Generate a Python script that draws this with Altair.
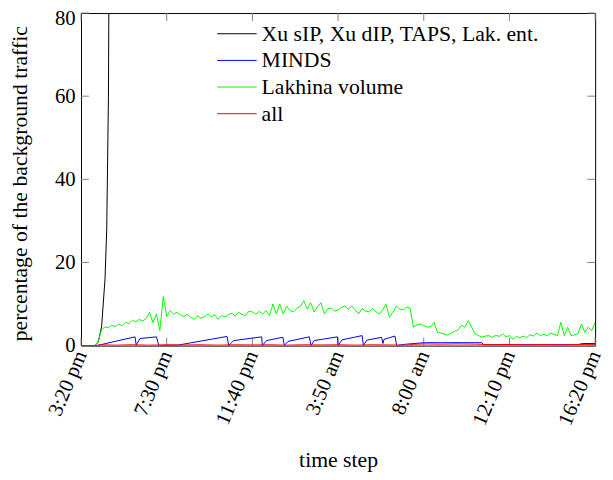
import altair as alt
import pandas as pd

# ---- data ----
x_tick_steps = [0, 25, 50, 75, 100, 125, 150]
x_tick_labels = ["3:20 pm", "7:30 pm", "11:40 pm", "3:50 am", "8:00 am", "12:10 pm", "16:20 pm"]
y_tick_values = [0, 20, 40, 60, 80]

series_names = ["Xu sIP, Xu dIP, TAPS, Lak. ent.", "MINDS", "Lakhina volume", "all"]
series_colors = ["#000000", "#0000ff", "#00ff00", "#ff0000"]

black_steps = [0, 4, 5, 6, 7, 7.5, 8, 8.5, 9]
black_values = [0, 0, 0.8, 4.5, 16, 28, 60, 150, 300]

blue_steps = [0, 4.6, 15.75, 16.1, 17.2, 22.0, 22.7, 28.2, 42.6, 43.1, 44.5, 52.7, 52.9, 54.1,
              58.9, 59.3, 60.4, 66.6, 67.1, 68.0, 74.8, 75.0, 76.2, 82.0, 82.4, 83.4, 87.7,
              88.1, 88.4, 91.6, 92.1, 94.4, 100.2, 116.9, 117.5, 144.8, 146.3, 150]
blue_values = [0, 0, 2.1, 0.1, 1.7, 2.1, 0, 0.1, 2.2, 0, 1.2, 2.1, 0, 1.2,
               2.0, 0, 1.0, 2.1, 0, 1.2, 2.1, 0, 1.4, 2.4, 0, 1.3, 2.0,
               0.5, 1.5, 2.3, 0, 0.3, 0.7, 0.7, 0.2, 0.2, 0.5, 0.5]

green_values = [
    0, 0, 0, 0, 0, 1.0, 3.8, 4.5, 4.3, 4.9,
    4.6, 5.2, 4.8, 5.6, 5.3, 6.1, 5.7, 6.3, 5.9, 6.5,
    8.0, 5.5, 7.6, 3.6, 11.8, 7.0, 8.4, 7.6, 8.0, 7.4,
    7.0, 7.5, 6.8, 6.3, 7.2, 6.6, 7.0, 7.6, 6.9, 7.4,
    6.3, 7.2, 6.9, 7.4, 7.8, 7.1, 8.0, 7.5, 7.2, 8.3,
    8.1, 7.6, 8.2, 7.6, 8.4, 7.2, 10.0, 7.6, 10.0, 7.6,
    9.5, 8.4, 8.1, 9.0, 9.4, 10.8, 8.8, 10.3, 8.1, 9.3,
    10.3, 7.6, 8.9, 9.0, 8.3, 8.6, 9.2, 9.5, 8.8, 9.5,
    8.6, 7.6, 8.9, 8.3, 8.1, 8.9, 8.2, 7.6, 8.6, 9.9,
    6.8, 8.0, 9.5, 8.8, 8.6, 9.3, 9.0, 4.4, 5.0, 5.2,
    4.8, 4.5, 4.5, 5.6, 3.2, 3.0, 2.8, 2.5, 3.0, 3.4,
    3.7, 4.9, 4.4, 6.0, 4.4, 2.8, 2.4, 2.0, 2.3, 2.4,
    2.0, 2.5, 2.2, 2.8, 2.1, 2.4, 1.5, 2.2, 1.9, 2.3,
    1.9, 2.6, 2.3, 3.0, 2.4, 2.7, 2.4, 3.0, 2.7, 2.4,
    5.6, 2.4, 4.4, 2.4, 2.6, 2.8, 5.2, 3.2, 4.4, 3.6,
    5.6,
]
green_steps = list(range(len(green_values)))

red_steps = [0, 4.6, 5.5, 10, 15, 20, 25, 30, 35, 40, 45, 50, 55, 60, 65, 70, 75, 80,
             85, 90, 95, 97, 100, 105, 110, 115, 117, 120, 125, 130, 135, 140, 145, 150]
red_values = [0, 0, 0.2, 0.1, 0.2, 0.1, 0.2, 0.15, 0.2, 0.1, 0.2, 0.15, 0.2, 0.1, 0.2, 0.15, 0.2, 0.1,
              0.2, 0.15, 0.1, 0.3, 0.4, 0.35, 0.4, 0.35, 0.3, 0.2, 0.25, 0.2, 0.25, 0.2, 0.25, 0.3]

# ---- build table ----
rows = []
for name, steps, vals in [
    (series_names[0], black_steps, black_values),
    (series_names[1], blue_steps, blue_values),
    (series_names[2], green_steps, green_values),
    (series_names[3], red_steps, red_values),
]:
    for i, (s, v) in enumerate(zip(steps, vals)):
        rows.append({"series": name, "step": s, "value": v, "order": i})
df = pd.DataFrame(rows)

W, H = 521, 337
FONT = "Liberation Serif"
FS_LAB = 21
FS_TITLE = 22
FS_LEG = 22
TICK = 8

arr_steps = "[" + ",".join(str(s) for s in x_tick_steps) + "]"
arr_labels = "[" + ",".join("'" + l + "'" for l in x_tick_labels) + "]"
label_expr = f"{arr_labels}[indexof({arr_steps}, datum.value)]"

xscale = alt.Scale(domain=[x_tick_steps[0], x_tick_steps[-1]], nice=False, zero=False)
yscale = alt.Scale(domain=[y_tick_values[0], y_tick_values[-1]], nice=False)

xaxis = alt.Axis(
    values=x_tick_steps, labelExpr=label_expr, labelAngle=-67, labelAlign="right",
    labelBaseline="middle", labelPadding=6, labelFont=FONT, labelFontSize=FS_LAB,
    labelColor="black", labelFlush=False, labelOverlap=False, ticks=False, domain=False,
    grid=False, title="time step", titleFont=FONT, titleFontSize=FS_TITLE, titleFontWeight="normal",
    titleColor="black", titleX=W / 2, titleY=116, titleBaseline="middle", titleAlign="center",
)
yaxis = alt.Axis(
    values=y_tick_values, labelPadding=6, labelFont=FONT, labelFontSize=FS_LAB, labelColor="black",
    labelOffset={"condition": {"test": f"datum.value == {y_tick_values[-1]}", "value": 6}, "value": 0},
    ticks=False, domain=False, grid=False, labelFlush=False, labelOverlap=False,
    title="percentage of the background traffic", titleFont=FONT, titleFontSize=FS_TITLE,
    titleFontWeight="normal", titleColor="black", titleX=-62, titleY=H / 2 + 4, titleAngle=-90,
    titleAlign="center", titleBaseline="middle",
)

X = alt.X("step:Q", scale=xscale, axis=xaxis)
Y = alt.Y("value:Q", scale=yscale, axis=yaxis)

lines = alt.Chart(df).mark_line(clip=True, strokeWidth=1).encode(
    x=X, y=Y,
    color=alt.Color(
        "series:N",
        scale=alt.Scale(domain=series_names, range=series_colors),
        sort=series_names,
        legend=alt.Legend(
            title=None, orient="none", legendX=147, legendY=10, padding=0,
            symbolType="M-4,0H4", symbolSize=100, symbolStrokeWidth=1,
            labelFont=FONT, labelFontSize=FS_LEG, labelColor="black", labelOffset=14,
            labelLimit=0, rowPadding=5,
        ),
    ),
    detail="series:N",
    order="order:Q",
)

xt = pd.DataFrame({"step": x_tick_steps})
yt = pd.DataFrame({"value": y_tick_values})
tick_col = "#808080"
xt_bot = alt.Chart(xt).mark_rule(color=tick_col, strokeWidth=1).encode(
    x=X, y=alt.value(H), y2=alt.value(H - TICK))
xt_top = alt.Chart(xt).mark_rule(color=tick_col, strokeWidth=1).encode(
    x=X, y=alt.value(0), y2=alt.value(TICK))
yt_left = alt.Chart(yt).mark_rule(color=tick_col, strokeWidth=1).encode(
    y=Y, x=alt.value(0), x2=alt.value(TICK))
yt_right = alt.Chart(yt).mark_rule(color=tick_col, strokeWidth=1).encode(
    y=Y, x=alt.value(W), x2=alt.value(W - TICK))

chart = alt.layer(xt_bot, xt_top, yt_left, yt_right, lines).properties(
    width=W, height=H,
    autosize=alt.AutoSizeParams(type="none"),
    padding={"left": 74, "top": 2, "right": 10, "bottom": 125},
).configure_view(stroke="black", strokeWidth=1)

chart.save("out.html", embed_options={"renderer": "svg", "actions": False})
